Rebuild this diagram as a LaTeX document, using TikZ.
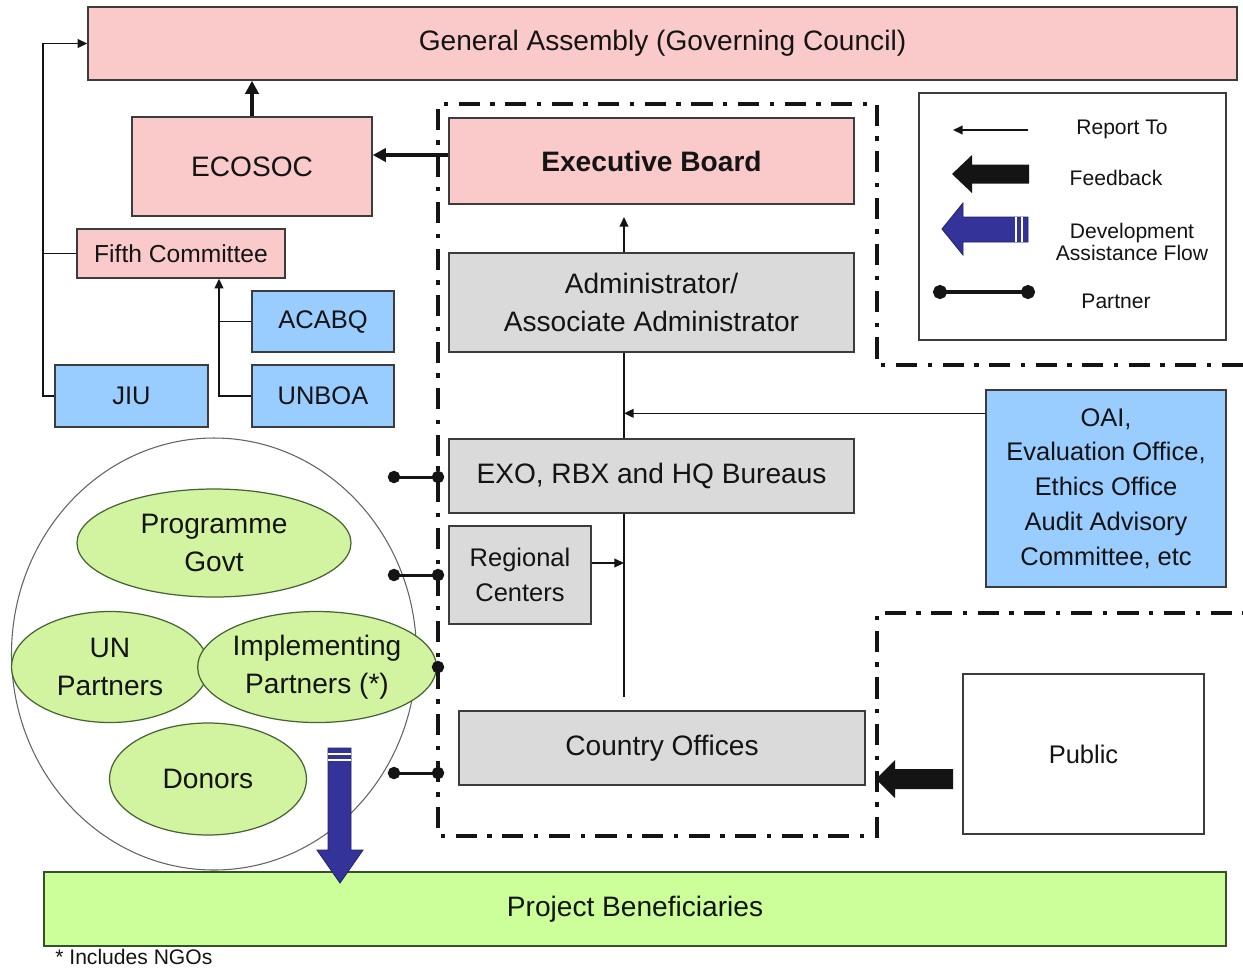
\documentclass[tikz,border=0pt]{standalone}
\usepackage{fontspec}
\setmainfont{Liberation Sans}
\usetikzlibrary{arrows.meta,shapes.geometric,calc}

\definecolor{pinkfill}{RGB}{250,202,202}
\definecolor{bluefill}{RGB}{153,204,255}
\definecolor{grayfill}{RGB}{218,218,218}
\definecolor{greenfill}{RGB}{210,244,160}
\definecolor{benefill}{RGB}{204,255,153}
\definecolor{leaf}{RGB}{70,100,50}
\definecolor{navy}{RGB}{51,51,153}
\definecolor{edge}{RGB}{60,60,60}
\definecolor{ink}{RGB}{20,20,20}

\begin{document}
\begin{tikzpicture}[x=0.02cm, y=-0.02cm,
  sz/.style 2 args={minimum width={#1*0.02cm}, minimum height={#2*0.02cm}},
  box/.style={draw=edge, line width=0.8pt, inner sep=0pt, align=center, text=ink},
  pinkbox/.style={box, fill=pinkfill},
  bluebox/.style={box, fill=bluefill},
  graybox/.style={box, fill=grayfill},
  party/.style={ellipse, draw=leaf, line width=0.7pt, fill=greenfill, inner sep=0pt,
    align=center, text=ink, font=\fontsize{16}{21.5}\selectfont},
  link/.style={draw=ink, line width=0.85pt},
  report/.style={link, -{Triangle[length=5.5pt,width=5pt]}},
  heavy/.style={draw=ink, line width=2.2pt, -{Triangle[length=7.5pt,width=7.5pt]}},
  partner/.style={draw=ink, line width=1.7pt},
  dots/.style={{Circle[length=7pt]}-{Circle[length=7pt]}, shorten <=-3.5pt, shorten >=-3.5pt},
  enddot/.style={-{Circle[length=7pt]}, shorten >=-3.5pt},
  boundary/.style={draw=ink, line width=2.3pt, line cap=butt,
    dash pattern=on 12pt off 6pt on 2.5pt off 6pt},
  fbig/.style={font=\fontsize{16}{21.5}\selectfont},
  fmid/.style={font=\fontsize{14.5}{19.8}\selectfont},
  fleg/.style={font=\fontsize{12}{12.5}\selectfont, text=ink, align=center, inner sep=0pt},
]
\useasboundingbox (0,0) rectangle (1243,968);
\fill[white] (0,0) rectangle (1243,968);

% governing bodies
\node[pinkbox, sz={1149}{73}, fbig] (ga) at (662.5,43.5) {General Assembly (Governing Council)};
\node[pinkbox, sz={240}{99}, fbig] (eco) at (252,166.5) {ECOSOC};
\node[pinkbox, sz={405}{86}, font=\fontsize{16}{21.5}\selectfont\bfseries] (eb) at (651.5,161) {Executive Board};
\node[pinkbox, sz={208}{49}, font=\fontsize{14}{18}\selectfont] (fc) at (181,253.5) {Fifth Committee};
\node[bluebox, sz={142}{61}, fmid] (acabq) at (323,321.5) {ACABQ};
\node[bluebox, sz={142}{62}, fmid] (unboa) at (323,396) {UNBOA};
\node[bluebox, sz={153}{62}, fmid] (jiu) at (131.5,396) {JIU};

% UNDP structure
\node[graybox, sz={405}{99}, fbig] (adm) at (651.5,302.5) {Administrator/\\Associate Administrator};
\node[graybox, sz={405}{74}, fbig] (exo) at (651.5,476) {EXO, RBX and HQ Bureaus};
\node[graybox, sz={142}{98}, fmid] (rc) at (520,575) {Regional\\Centers};
\node[graybox, sz={406}{74}, fbig] (co) at (662,748) {Country Offices};
\node[bluebox, sz={240}{197}, fmid] (oai) at (1106,488.5) {OAI,\\Evaluation Office,\\Ethics Office\\Audit Advisory\\Committee, etc};
\node[box, fill=white, sz={241}{160}, fmid] (pub) at (1083.5,754) {Public};

% partners group
\node[ellipse, draw=edge!80, line width=0.6pt, sz={405}{432}, inner sep=0pt] (grp) at (214,654) {};
\node[party, sz={274}{108}] (pg) at (214,543) {Programme\\Govt};
\node[party, sz={197}{111}] (un) at (110,667) {UN\\Partners};
\node[party, sz={197}{111}] (ip) at (317,667) {Implementing\\Partners (*)};
\node[party, sz={197}{112}] (don) at (208,779) {Donors};

% beneficiaries and footnote
\node[box, draw=leaf!80!black, line width=0.9pt, fill=benefill, sz={1182}{74}, fbig] (pb) at (635,909) {Project Beneficiaries};
\node[anchor=west, inner sep=0pt, text=ink, font=\fontsize{12}{14}\selectfont] (note) at (55,957) {* Includes NGOs};

% legend
\node[box, fill=white, sz={307}{247}] (leg) at (1072.5,216.5) {};
\node[fleg] (lrep) at (1122,129) {Report To};
\node[fleg] (lfb) at (1116,178) {Feedback};
\node[fleg] (ldev) at (1132,242) {Development\\Assistance Flow};
\node[fleg] (lpar) at (1116,301) {Partner};

% named points
\coordinate (lx) at (43,0);
\coordinate (mx) at (219,0);
\coordinate (sp) at (624,0);
\coordinate (ebin) at (624,217);
\coordinate (spend) at (624,697);
\coordinate (bl) at (438,0);
\coordinate (pl1) at (394,477);
\coordinate (pl2) at (394,575);
\coordinate (pl3) at (394,773);
\coordinate (oaiout) at ($(oai.north west)+(0,24)$);
\coordinate (rcout) at ($(rc.east)+(0,-12)$);
\coordinate (ebout) at ($(eb.west)+(0,-6)$);

% reporting lines on the left
\draw[report] (jiu.west) -- (jiu.west -| lx) |- (ga.west);
\draw[link] (fc.west) -- (fc.west -| lx);
\draw[report] (unboa.west) -- (unboa.west -| mx) -- (mx |- fc.south);
\draw[link] (acabq.west) -- (acabq.west -| mx);
\draw[heavy] (eco.north) -- (eco.north |- ga.south);
\draw[heavy] (ebout) -- (ebout -| eco.east);

% reporting spine
\draw[report] (adm.north -| ebin) -- (ebin);
\draw[link] (adm.south -| sp) -- (exo.north -| sp);
\draw[link] (exo.south -| sp) -- (spend);
\draw[report] (oaiout) -- (oaiout -| sp);
\draw[report] (rcout) -- (rcout -| sp);

% organisational boundary
\draw[boundary] (1243,365) -- (877,365) -- (877,104) -- (438,104) -- (438,836)
  -- (877,836) -- (877,613) -- (1243,613);

% partner links
\draw[partner, dots] (pl1) -- (pl1 -| bl);
\draw[partner, dots] (pl2) -- (pl2 -| bl);
\draw[partner, dots] (pl3) -- (pl3 -| bl);
\draw[partner, enddot] (ip.east) -- (ip.east -| bl);

% feedback from the public
\fill[ink] (876,779) -- (895,760) -- (895,769) -- (953,769) -- (953,789)
  -- (895,789) -- (895,798) -- cycle;

% development assistance flow
\fill[navy, draw=navy!70!black, line width=0.5pt] (340,883) -- (317,850) -- (328,850)
  -- (328,748) -- (351,748) -- (351,850) -- (363,850) -- cycle;
\draw[white, line width=1pt] (328,754) -- (351,754) (328,760) -- (351,760);

% legend samples
\draw[report] (1028,130) -- (953,130);
\fill[ink] (952,174) -- (972,155) -- (972,164.5) -- (1029,164.5) -- (1029,183.5)
  -- (972,183.5) -- (972,193) -- cycle;
\fill[navy, draw=navy!70!black, line width=0.5pt] (942,229) -- (963,203) -- (963,217)
  -- (1028,217) -- (1028,242) -- (963,242) -- (963,255) -- cycle;
\draw[white, line width=1pt] (1016,217) -- (1016,242) (1022,217) -- (1022,242);
\draw[partner, line width=1.8pt, {Circle[length=8pt]}-{Circle[length=8pt]},
  shorten <=-4pt, shorten >=-4pt] (940,292) -- (1028,292);
\end{tikzpicture}
\end{document}
